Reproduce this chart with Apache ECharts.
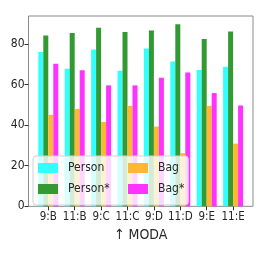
<!DOCTYPE html>
<html>
<head>
<meta charset="utf-8">
<script src="https://cdn.jsdelivr.net/npm/echarts@6/dist/echarts.min.js"></script>
<style>html,body{margin:0;padding:0;background:#fff}#c{width:266px;height:256px}</style>
</head>
<body>
<div id="c"></div>
<script>
const categories = ['9:B', '11:B', '9:C', '11:C', '9:D', '11:D', '9:E', '11:E'];
const person     = [76.0, 67.8, 77.3, 66.8, 77.8, 71.4, 67.2, 68.8];
const personStar = [84.2, 85.4, 88.0, 85.9, 86.6, 89.7, 82.5, 86.1];
const bag        = [45.1, 48.0, 41.6, 49.5, 39.3, 26.2, 49.5, 30.9];
const bagStar    = [70.3, 67.0, 59.6, 59.6, 63.4, 66.0, 55.8, 49.7];
const yTicks     = [0, 20, 40, 60, 80];
const xName      = '↑ MODA';

const FONT = "'DejaVu Sans Condensed', 'DejaVu Sans', sans-serif";
const chart = echarts.init(document.getElementById('c'), null, {renderer: 'canvas'});
const mk = (name, data, color) => ({
  name, type: 'bar', data, xAxisIndex: 0, yAxisIndex: 1,
  barWidth: 5, barGap: '0%',
  itemStyle: {color}
});
chart.setOption({
  animation: false,
  grid: [
    {left: 28.5, top: 16, right: 13, bottom: 49.7, show: true, borderColor: '#8a8a8a', borderWidth: 1, backgroundColor: 'transparent'},
    {left: 35.1, top: 16, width: 211.2, bottom: 49.7}
  ],
  xAxis: [
    {type: 'category', gridIndex: 1, data: categories,
     axisLine: {show: false},
     axisTick: {show: true, alignWithLabel: true, length: 4, lineStyle: {color: '#333'}},
     axisLabel: {fontFamily: FONT, fontSize: 11.5, color: '#262626', margin: 5, interval: 0},
     name: xName, nameLocation: 'middle', nameGap: 19,
     nameTextStyle: {fontFamily: FONT, fontSize: 14, color: '#262626'}
    },
    {type: 'value', gridIndex: 0, show: false, min: 0, max: 1}
  ],
  yAxis: [
    {type: 'value', gridIndex: 0, min: 0, max: 93.8, interval: 20,
     axisLine: {show: false}, splitLine: {show: false},
     axisTick: {show: true, length: 4, lineStyle: {color: '#333'}},
     axisLabel: {fontFamily: FONT, fontSize: 12, color: '#262626', margin: 4, showMaxLabel: false,
       formatter: v => yTicks.includes(v) ? String(v) : ''}
    },
    {type: 'value', gridIndex: 1, min: 0, max: 93.8, show: false}
  ],
  legend: {
    orient: 'vertical', left: 33, top: 156, height: 40,
    padding: [6, 4, 10, 5], itemGap: 9, itemWidth: 20, itemHeight: 10,
    backgroundColor: 'rgba(255,255,255,0.8)', borderColor: '#d0d0d0', borderWidth: 1, borderRadius: 3,
    icon: 'rect',
    textStyle: {fontFamily: FONT, fontSize: 12, color: '#262626', lineHeight: 10, padding: [0, 0, 0, 5]},
    data: [
      {name: 'Person', textStyle: {width: 51}},
      {name: 'Person*', textStyle: {width: 51}},
      {name: 'Bag'},
      {name: 'Bag*'}
    ]
  },
  series: [
    mk('Person', person, '#33ffff'),
    mk('Person*', personStar, '#339933'),
    mk('Bag', bag, '#ffb733'),
    mk('Bag*', bagStar, '#ff33ff')
  ]
});
</script>
</body>
</html>
